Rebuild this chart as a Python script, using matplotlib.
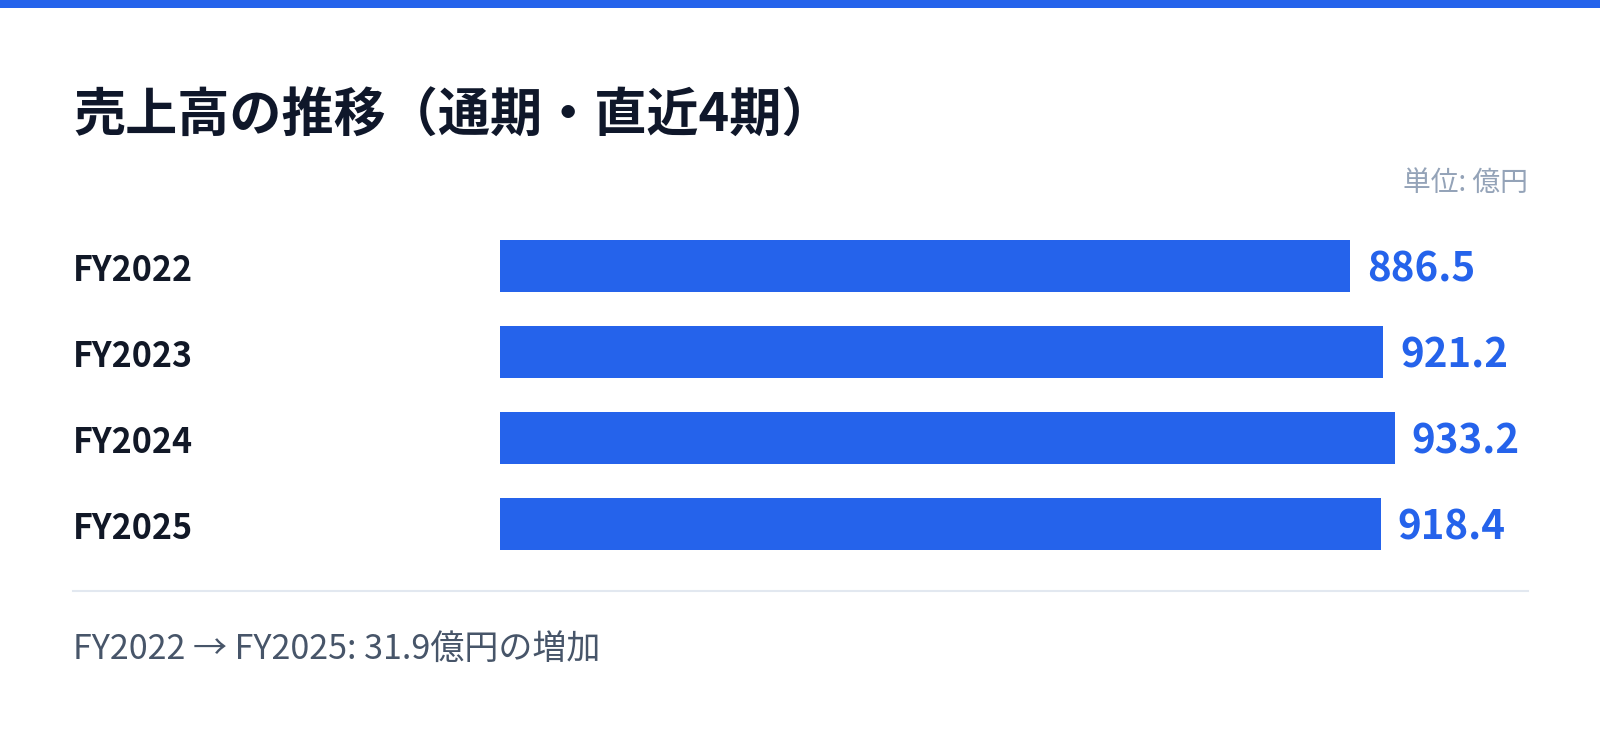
import matplotlib
matplotlib.use("Agg")
import matplotlib.pyplot as plt
from matplotlib.patches import Rectangle
from matplotlib.lines import Line2D

plt.rcParams['font.family'] = ['Noto Sans CJK JP', 'DejaVu Sans']

# ---- data ----
categories = ["FY2022", "FY2023", "FY2024", "FY2025"]
values = [886.5, 921.2, 933.2, 918.4]
value_labels = ["886.5", "921.2", "933.2", "918.4"]
title = "売上高の推移（通期・直近4期）"
unit_label = "単位: 億円"
footer = "FY2022 → FY2025: 31.9億円の増加"

W, H = 1600, 733
DPI = 100
BLUE = "#2563eb"

fig = plt.figure(figsize=(W / DPI, H / DPI), dpi=DPI)
fig.patch.set_facecolor("white")

def fx(px):
    return px / W

def fy(py):
    return 1 - py / H

# top stripe
fig.add_artist(Rectangle((0, fy(8)), 1, 8 / H, transform=fig.transFigure,
                         color=BLUE, lw=0))

# title
fig.text(fx(73), fy(116), title, fontsize=37.5, fontweight="bold",
         color="#0f172a", ha="left", va="center")

# unit label
fig.text(fx(1528), fy(183), unit_label, fontsize=20, color="#94a3b8",
         ha="right", va="center")

# bar axes: 4 slots of 86 px, starting at y=223
ax_top, ax_bot = 223, 223 + 4 * 86
ax_left, ax_right = 500, 1528
ax = fig.add_axes([fx(ax_left), fy(ax_bot), (ax_right - ax_left) / W,
                   (ax_bot - ax_top) / H])
px_per_unit = (1350 - 500) / 886.5
ax.set_xlim(0, (ax_right - ax_left) / px_per_unit)
ax.set_ylim(len(categories) - 0.5, -0.5)
ax.axis("off")

ypos = list(range(len(categories)))
ax.barh(ypos, values, height=52 / 86, color=BLUE, linewidth=0)

for y, v, lab in zip(ypos, values, value_labels):
    ax.annotate(lab, xy=(v, y), xytext=(12.0, -3.0), textcoords="offset points",
                ha="left", va="center", fontsize=29, fontweight="bold",
                color=BLUE)

# category labels
for y, cat in zip(ypos, categories):
    py = ax_top + 43 + 86 * y + 4.5
    fig.text(fx(73), fy(py), cat, fontsize=24.5, fontweight="bold",
             color="#111827", ha="left", va="center")

# separator
fig.add_artist(Line2D([fx(73), fx(1528)], [fy(591), fy(591)],
                      transform=fig.transFigure, color="#e2e8f0", lw=1.5))

# footer
fig.text(fx(73), fy(649), footer, fontsize=24.5, color="#475569",
         ha="left", va="center")

fig.savefig("out.png", dpi=DPI, facecolor="white")
